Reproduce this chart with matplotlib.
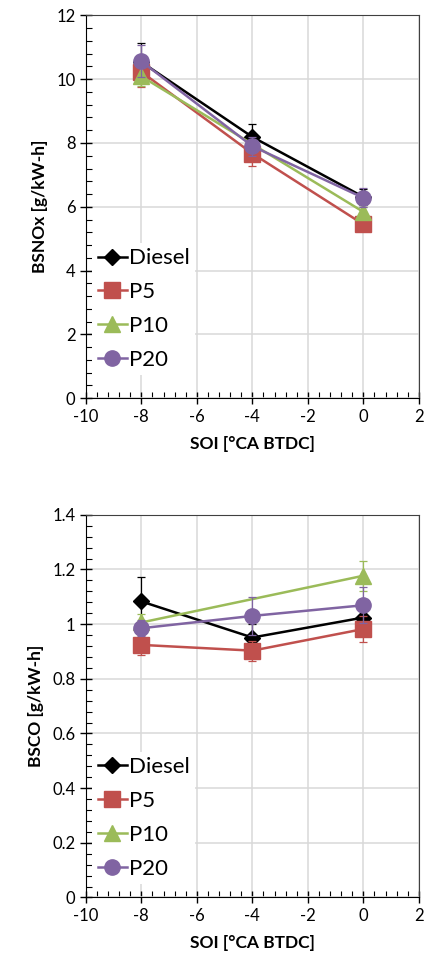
import matplotlib.pyplot as plt
from matplotlib.lines import Line2D
from matplotlib.ticker import MultipleLocator
import numpy as np

plt.rcParams['font.family'] = ['Lato', 'DejaVu Sans']
plt.rcParams['axes.unicode_minus'] = False

# datos (P10 sin punto en -4)
soi = [-8, -4, 0]
series = ['Diesel', 'P5', 'P10', 'P20']
colores = ['#000000', '#C0504D', '#9BBB59', '#8064A2']
marcadores = ['D', 's', '^', 'o']
tam_marcador = [8, 11, 11, 11]

bsnox = {
    'Diesel': [10.54, 8.19, 6.31],
    'P5': [10.23, 7.67, 5.45],
    'P10': [10.09, np.nan, 5.84],
    'P20': [10.56, 7.90, 6.28],
}
bsnox_err = {
    'Diesel': [0.60, 0.40, 0.25],
    'P5': [0.47, 0.40, 0.15],
    'P10': [0.30, 0.0, 0.15],
    'P20': [0.50, 0.30, 0.30],
}
bsco = {
    'Diesel': [1.083, 0.951, 1.024],
    'P5': [0.924, 0.903, 0.982],
    'P10': [1.006, np.nan, 1.177],
    'P20': [0.985, 1.030, 1.069],
}
bsco_err = {
    'Diesel': [0.090, 0.050, 0.050],
    'P5': [0.036, 0.037, 0.046],
    'P10': [0.030, 0.0, 0.055],
    'P20': [0.030, 0.070, 0.065],
}

fig = plt.figure(figsize=(4.27, 9.64), dpi=100)
ax1 = fig.add_axes([0.201, 0.587, 0.780, 0.397])
ax2 = fig.add_axes([0.201, 0.069, 0.780, 0.397])


def dibujar(ax, datos, errores, ymax, ymayor, ymenor, ylabel, leg_y, leg_esp):
    handles = []
    for i, s in enumerate(series):
        y = np.array(datos[s], dtype=float)
        e = np.array(errores[s], dtype=float)
        ok = ~np.isnan(y)
        x = np.array(soi)[ok]
        ax.errorbar(x, y[ok], yerr=e[ok], color=colores[i], marker=marcadores[i],
                    markersize=tam_marcador[i], linewidth=1.8, elinewidth=0.9, capsize=3,
                    capthick=0.9, zorder=3 + i)
        handles.append(Line2D([], [], color=colores[i], marker=marcadores[i],
                              markersize=tam_marcador[i], linewidth=1.8, label=s))
    ax.set_xlim(-10, 2)
    ax.set_ylim(0, ymax)
    ax.xaxis.set_major_locator(MultipleLocator(2))
    ax.xaxis.set_minor_locator(MultipleLocator(0.4))
    ax.yaxis.set_major_locator(MultipleLocator(ymayor))
    ax.yaxis.set_minor_locator(MultipleLocator(ymenor))
    ax.yaxis.set_major_formatter(lambda v, p: f'{v:g}')
    ax.grid(True, which='major', color='#d9d9d9', linewidth=1.1)
    ax.set_axisbelow(True)
    ax.tick_params(which='major', direction='inout', length=8, width=1, labelsize=12)
    ax.tick_params(which='minor', direction='in', length=4, width=0.8)
    for sp in ax.spines.values():
        sp.set_color('#404040')
    ax.spines['left'].set_color('black')
    ax.spines['bottom'].set_color('black')
    ax.set_xlabel('SOI [°CA BTDC]', fontsize=12.5, fontweight='bold', labelpad=8)
    ax.set_ylabel(ylabel, fontsize=12.5, fontweight='bold', labelpad=6)
    leg = ax.legend(handles=handles, loc='lower left', bbox_to_anchor=(0.02, leg_y), fontsize=16,
                    frameon=True, fancybox=False, edgecolor='none', facecolor='white',
                    framealpha=1, handlelength=1.3, handletextpad=0.1,
                    labelspacing=leg_esp, borderpad=0.25, borderaxespad=0)
    leg.set_zorder(10)


dibujar(ax1, bsnox, bsnox_err, 12, 2, 0.4, 'BSNOx [g/kW-h]', 0.06, 0.62)
dibujar(ax2, bsco, bsco_err, 1.4, 0.2, 0.04, 'BSCO [g/kW-h]', 0.035, 0.62)

fig.savefig('out.png', dpi=100)
